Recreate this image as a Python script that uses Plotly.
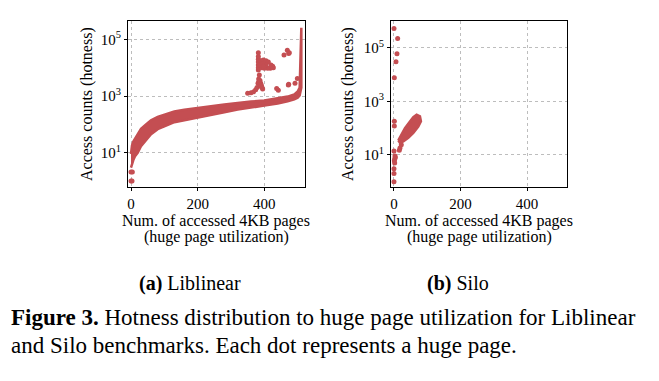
import plotly.graph_objects as go

RED = "#c44e52"
FONT = "Liberation Serif, Times New Roman, DejaVu Serif, serif"

# ---------------- Liblinear (a) ----------------
# main band: x = accessed 4KB pages, upper / lower envelope of access counts
lib_band_x = [0, 3, 7, 12, 20, 30, 45, 60, 80, 100, 130, 160, 200, 240, 280, 320,
              360, 400, 440, 470, 490, 500, 506, 509, 511]
lib_band_hi = [9, 18, 25, 32, 45, 70, 100, 140, 185, 225, 285, 330, 390, 440, 505, 580,
               640, 700, 820, 960, 1150, 1450, 2000, 260000, 260000]
lib_band_lo = [3, 3.8, 5.5, 7.5, 10, 17, 28, 45, 68, 85, 120, 140, 170, 215, 270, 335,
               395, 460, 550, 660, 770, 870, 1050, 1300, 2000]

# isolated hot pages (outliers)
lib_pts_x = [0, 4, 0, 3,
             350, 360, 368, 374, 378, 381, 383, 385, 387, 389, 391, 393, 395, 383, 386, 390,
             382, 382, 382, 382, 382, 382, 382,
             390, 397, 405, 412, 420, 425, 427, 418, 410, 400, 392, 388, 395, 405, 398,
             459, 469, 473, 475, 442, 437, 472, 492, 473, 499]
lib_pts_y = [2.1, 2.1, 1.0, 1.0,
             1260, 1320, 1410, 1660, 2000, 2820, 3980, 5500, 3550, 2820, 2400, 2000, 1780, 3160, 2510, 2240,
             8300, 10000, 12600, 15800, 20000, 25100, 33900,
             17800, 18600, 17800, 15800, 12600, 11200, 10000, 9550, 9550, 9550, 10000, 12600, 14100, 12600, 11200,
             28200, 41700, 31600, 33900, 1620, 1860, 2450, 2820, 2630, 4170]

# ---------------- Silo (b) ----------------
# dense cluster outline
silo_blob_x = [13, 23, 33, 48, 58, 68, 78, 81, 73, 58, 43, 28, 18]
silo_blob_y = [35, 56, 100, 178, 257, 316, 275, 178, 115, 66, 43, 32, 28]

silo_pts_x = [0, 11, 9, 6, 1, 1, 1, 22, 18, 16, 0, 3, 4, 2, 1, 2, 0, 0, 0]
silo_pts_y = [520000, 220000, 60000, 30000, 7600, 180, 120, 24, 18, 15, 14,
              9, 8, 7, 6, 5, 3, 2, 1]

x_ticks = [0, 200, 400]
y_tickvals = [10, 1000, 100000]
y_ticktext = ["10<sup>1</sup>", "10<sup>3</sup>", "10<sup>5</sup>"]

fig = go.Figure()

# Liblinear band polygon
fig.add_trace(go.Scatter(
    x=lib_band_x + lib_band_x[::-1], y=lib_band_hi + lib_band_lo[::-1],
    mode="lines", fill="toself", fillcolor=RED,
    line=dict(color=RED, width=2.5), xaxis="x", yaxis="y", hoverinfo="skip"))
fig.add_trace(go.Scatter(
    x=lib_pts_x, y=lib_pts_y, mode="markers",
    marker=dict(color=RED, size=5), xaxis="x", yaxis="y"))

# Silo
fig.add_trace(go.Scatter(
    x=silo_blob_x + silo_blob_x[:1], y=silo_blob_y + silo_blob_y[:1],
    mode="lines", fill="toself", fillcolor=RED,
    line=dict(color=RED, width=2.5), xaxis="x2", yaxis="y2", hoverinfo="skip"))
fig.add_trace(go.Scatter(
    x=silo_pts_x, y=silo_pts_y, mode="markers",
    marker=dict(color=RED, size=5), xaxis="x2", yaxis="y2"))

W, H = 659, 381
def px(v):
    return v / W
def py(v):
    return 1 - v / H

axis_common = dict(showline=True, mirror=True, linecolor="black", linewidth=1,
                   ticks="outside", ticklen=3, tickcolor="black",
                   showgrid=True, gridcolor="#bdbdbd", griddash="dot", gridwidth=1,
                   zeroline=False, tickfont=dict(family=FONT, size=15, color="black"))

fig.update_layout(
    width=W, height=H, margin=dict(l=0, r=0, t=0, b=0),
    paper_bgcolor="white", plot_bgcolor="white", showlegend=False,
    font=dict(family=FONT, color="black"),
    xaxis=dict(domain=[px(128), px(305)], range=[-9, 522], tickvals=x_ticks,
               anchor="y", **axis_common),
    yaxis=dict(domain=[py(187), py(21)], type="log", range=[-0.21, 5.65],
               tickvals=y_tickvals, ticktext=y_ticktext, anchor="x", **axis_common),
    xaxis2=dict(domain=[px(391), px(567)], range=[-9, 520], tickvals=x_ticks,
                anchor="y2", **axis_common),
    yaxis2=dict(domain=[py(187), py(21)], type="log", range=[-0.2, 6.0],
                tickvals=y_tickvals, ticktext=y_ticktext, anchor="x2", **axis_common),
)

ann = []
for cx in (216, 479):
    ann.append(dict(text="Num. of accessed 4KB pages", x=px(cx), y=py(221),
                    xref="paper", yref="paper", showarrow=False,
                    font=dict(family=FONT, size=16), xanchor="center", yanchor="middle"))
    ann.append(dict(text="(huge page utilization)", x=px(cx), y=py(237),
                    xref="paper", yref="paper", showarrow=False,
                    font=dict(family=FONT, size=16), xanchor="center", yanchor="middle"))
for cx in (87, 348):
    ann.append(dict(text="Access counts (hotness)", x=px(cx), y=py(104),
                    xref="paper", yref="paper", showarrow=False, textangle=-90,
                    font=dict(family=FONT, size=16), xanchor="center", yanchor="middle"))
ann.append(dict(text="<b>(a)</b> Liblinear", x=px(190), y=py(283), xref="paper", yref="paper",
                showarrow=False, font=dict(family=FONT, size=20), xanchor="center", yanchor="middle"))
ann.append(dict(text="<b>(b)</b> Silo", x=px(458), y=py(283), xref="paper", yref="paper",
                showarrow=False, font=dict(family=FONT, size=20), xanchor="center", yanchor="middle"))
ann.append(dict(text="<b>Figure 3.</b> Hotness distribution to huge page utilization for Liblinear",
                x=px(9), y=py(317), xref="paper", yref="paper", showarrow=False,
                font=dict(family=FONT, size=23), xanchor="left", yanchor="middle"))
ann.append(dict(text="and Silo benchmarks. Each dot represents a huge page.",
                x=px(9), y=py(345), xref="paper", yref="paper", showarrow=False,
                font=dict(family=FONT, size=23), xanchor="left", yanchor="middle"))
fig.update_layout(annotations=ann)

fig.write_html("out.html", config={"displayModeBar": False},
               post_script="document.body.style.margin='0';document.body.style.overflow='hidden';")
